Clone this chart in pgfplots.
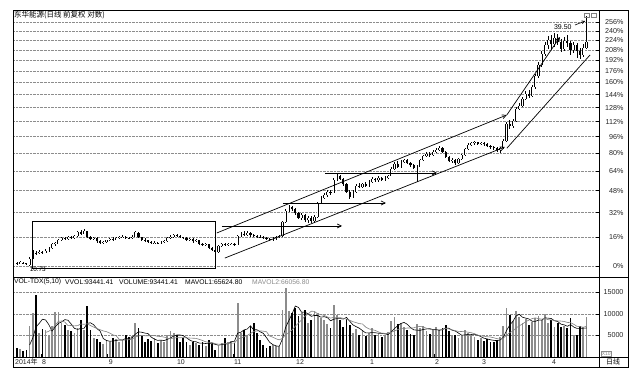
\documentclass[border=0pt]{standalone}
\usepackage{pgfplots}
\pgfplotsset{compat=1.18}
\usepackage{pgfplotstable}
\usepackage{fontspec}
\setmainfont{Liberation Sans}
\newfontfamily\cjk{Noto Sans CJK SC}
\usetikzlibrary{arrows.meta}
\newcommand\tf{\fontsize{7.2}{8}\selectfont}
\newcommand\vf{\fontsize{6.8}{8}\selectfont}

\pgfplotstableread{
i o h l c v m5 m10
0 10.90 10.95 10.80 10.85 2.0 nan nan
1 10.85 11.00 10.82 10.95 1.8 nan nan
2 10.92 10.98 10.84 10.88 1.5 nan nan
3 10.88 10.92 10.78 10.82 1.7 nan nan
4 10.80 11.25 10.73 11.15 7.1 2.82 nan
5 11.20 11.65 11.15 11.55 10.2 4.46 nan
6 11.50 11.62 11.38 11.45 14.5 7.00 nan
7 11.45 11.65 11.40 11.55 5.6 7.82 nan
8 11.55 11.62 11.42 11.50 6.5 8.78 nan
9 11.50 11.70 11.45 11.60 6.2 8.60 5.71
10 11.60 11.82 11.55 11.75 4.8 7.52 5.99
11 11.75 12.10 11.70 12.00 7.1 6.04 6.52
12 12.00 12.18 11.92 12.10 10.5 7.02 7.42
13 12.05 12.35 12.00 12.25 10.5 7.82 8.30
14 12.25 12.48 12.20 12.40 7.9 8.16 8.38
15 12.40 12.50 12.28 12.35 7.5 8.70 8.11
16 12.35 12.52 12.30 12.45 6.3 8.54 7.29
17 12.45 12.55 12.35 12.40 6.0 7.64 7.33
18 12.40 12.62 12.36 12.55 5.6 6.66 7.24
19 12.55 12.90 12.50 12.80 6.7 6.42 7.29
20 12.80 12.95 12.65 12.70 8.7 6.66 7.68
21 12.70 13.00 12.65 12.90 6.3 6.66 7.60
22 12.85 12.90 12.40 12.50 11.8 7.82 7.73
23 12.50 12.55 12.25 12.35 6.3 7.96 7.31
24 12.35 12.48 12.28 12.40 4.4 7.50 6.96
25 12.40 12.45 12.12 12.20 4.2 6.60 6.63
26 12.20 12.25 12.05 12.10 3.6 6.06 6.36
27 12.10 12.22 12.05 12.15 3.0 4.30 6.06
28 12.15 12.30 12.10 12.25 4.0 3.84 5.90
29 12.25 12.42 12.20 12.35 3.5 3.66 5.58
30 12.35 12.45 12.25 12.30 4.4 3.70 5.15
31 12.30 12.50 12.26 12.42 4.3 3.84 4.95
32 12.42 12.55 12.36 12.45 3.6 3.96 4.13
33 12.45 12.58 12.40 12.50 4.0 3.96 3.90
34 12.50 12.56 12.36 12.42 5.2 4.30 3.98
35 12.42 12.50 12.32 12.40 4.6 4.34 4.02
36 12.40 12.58 12.35 12.50 4.8 4.44 4.14
37 12.50 12.90 12.48 12.80 7.9 5.30 4.63
38 12.75 12.80 12.40 12.45 6.7 5.84 4.90
39 12.45 12.50 12.22 12.30 4.8 5.76 5.03
40 12.30 12.38 12.18 12.25 3.6 5.56 4.95
41 12.25 12.30 12.08 12.15 4.2 5.44 4.94
42 12.15 12.22 12.05 12.10 3.8 4.62 4.96
43 12.10 12.20 12.02 12.12 4.4 4.16 5.00
44 12.12 12.18 12.00 12.08 3.3 3.86 4.81
45 12.08 12.22 12.02 12.15 4.0 3.94 4.75
46 12.15 12.28 12.10 12.20 3.6 3.82 4.63
47 12.20 12.48 12.16 12.40 5.2 4.10 4.36
48 12.40 12.60 12.35 12.50 6.0 4.42 4.29
49 12.50 12.68 12.44 12.60 5.6 4.88 4.37
50 12.60 12.70 12.48 12.55 5.2 5.12 4.53
51 12.55 12.62 12.38 12.45 3.6 5.12 4.47
52 12.45 12.50 12.32 12.40 4.4 4.96 4.53
53 12.40 12.45 12.25 12.30 3.6 4.48 4.45
54 12.30 12.42 12.22 12.35 2.9 3.94 4.41
55 12.35 12.40 12.12 12.20 3.6 3.62 4.37
56 12.20 12.32 12.14 12.25 3.2 3.54 4.33
57 12.25 12.28 11.98 12.05 2.9 3.24 4.10
58 12.05 12.10 11.88 11.95 3.5 3.22 3.85
59 11.95 12.08 11.88 12.00 2.5 3.14 3.54
60 12.00 12.02 11.72 11.80 4.0 3.22 3.42
61 11.80 11.85 11.58 11.65 3.0 3.18 3.36
62 11.65 11.70 11.45 11.55 1.7 2.94 3.09
63 11.55 11.98 11.50 11.90 2.5 2.74 2.98
64 11.90 12.08 11.85 12.00 3.3 2.90 3.02
65 12.00 12.06 11.90 11.95 4.4 2.98 3.10
66 11.95 12.08 11.90 12.02 3.6 3.10 3.14
67 12.02 12.12 11.96 12.05 3.8 3.52 3.23
68 12.05 12.10 11.92 11.98 3.3 3.68 3.21
69 11.98 12.62 11.95 12.55 12.6 5.54 4.22
70 12.55 12.80 12.50 12.70 5.5 5.76 4.37
71 12.70 12.85 12.55 12.60 6.3 6.30 4.70
72 12.60 12.88 12.55 12.75 4.8 6.50 5.01
73 12.75 12.80 12.50 12.60 7.1 7.26 5.47
74 12.60 12.68 12.48 12.55 7.9 6.32 5.93
75 12.55 12.62 12.42 12.50 5.6 6.34 6.05
76 12.50 12.58 12.38 12.45 4.0 5.88 6.09
77 12.45 12.52 12.34 12.40 2.9 5.50 6.00
78 12.40 12.45 12.28 12.35 2.1 4.50 5.88
79 12.35 12.40 12.22 12.30 2.5 3.42 4.87
80 12.30 12.45 12.24 12.38 2.9 2.88 4.61
81 12.38 12.52 12.30 12.45 2.5 2.58 4.23
82 12.45 12.62 12.40 12.55 2.3 2.46 3.98
83 12.55 13.55 12.50 13.50 11.0 4.24 4.37
84 13.50 14.45 13.45 14.30 16.0 6.94 5.18
85 14.30 14.70 14.20 14.55 10.6 8.48 5.68
86 14.55 14.65 14.25 14.40 10.2 10.02 6.30
87 14.40 14.50 14.00 14.10 11.4 11.84 7.15
88 14.10 14.20 13.70 13.80 9.5 11.54 7.89
89 13.80 14.10 13.65 14.00 10.2 10.38 8.66
90 14.00 14.05 13.50 13.60 11.0 10.46 9.47
91 13.60 13.95 13.45 13.80 7.9 10.00 10.01
92 13.80 13.90 13.40 13.55 8.7 9.46 10.65
93 13.55 14.00 13.45 13.85 10.5 9.66 10.60
94 13.85 15.00 13.80 14.90 10.2 9.66 10.02
95 14.90 15.45 14.80 15.30 9.0 9.26 9.86
96 15.30 15.65 15.20 15.50 8.5 9.38 9.69
97 15.50 15.90 15.40 15.75 7.6 9.16 9.31
98 15.75 15.95 15.55 15.70 6.8 8.42 9.04
99 15.70 17.00 15.65 16.80 12.0 8.78 9.22
100 16.80 17.30 16.70 17.10 9.8 8.94 9.10
101 17.10 17.25 16.75 16.90 8.5 8.94 9.16
102 16.90 17.00 16.30 16.40 7.0 8.82 8.99
103 16.40 16.50 15.70 15.80 8.8 9.22 8.82
104 15.80 15.95 15.20 15.40 7.5 8.32 8.55
105 15.40 15.90 15.30 15.80 5.6 7.48 8.21
106 15.80 16.40 15.70 16.30 6.4 7.06 8.00
107 16.30 16.50 16.10 16.20 5.2 6.70 7.76
108 16.20 16.55 16.10 16.45 6.0 6.14 7.68
109 16.45 16.60 16.20 16.30 4.8 5.60 6.96
110 16.30 16.75 16.20 16.60 5.6 5.60 6.54
111 16.60 17.05 16.50 16.90 6.8 5.68 6.37
112 16.90 17.00 16.60 16.75 5.0 5.64 6.17
113 16.75 17.10 16.65 16.95 5.4 5.52 5.83
114 16.95 17.05 16.70 16.80 4.6 5.48 5.54
115 16.80 17.10 16.70 17.00 5.2 5.40 5.50
116 17.00 17.25 16.90 17.15 5.8 5.20 5.44
117 17.15 17.95 17.10 17.80 8.4 5.88 5.76
118 17.80 18.40 17.70 18.20 9.2 6.64 6.08
119 18.20 18.50 17.90 18.00 7.6 7.24 6.36
120 18.00 18.60 17.90 18.40 8.0 7.80 6.60
121 18.40 18.75 18.30 18.60 7.0 8.04 6.62
122 18.60 18.70 18.20 18.30 6.2 7.60 6.74
123 18.30 18.40 17.95 18.10 5.4 6.84 6.74
124 18.10 18.20 17.80 17.90 5.0 6.32 6.78
125 17.90 18.10 16.65 18.00 7.6 6.24 7.02
126 18.00 18.75 17.95 18.60 6.8 6.20 7.12
127 18.60 19.10 18.50 19.00 7.2 6.40 7.00
128 19.00 19.40 18.90 19.20 6.0 6.52 6.68
129 19.20 19.45 18.95 19.10 5.4 6.60 6.46
130 19.10 19.60 19.00 19.40 6.4 6.36 6.30
131 19.40 19.80 19.30 19.60 7.0 6.40 6.30
132 19.60 20.00 19.50 19.80 6.2 6.20 6.30
133 19.80 19.90 19.30 19.40 6.8 6.36 6.44
134 19.40 19.50 18.80 18.90 7.4 6.76 6.68
135 18.90 19.00 18.40 18.50 6.0 6.68 6.52
136 18.50 18.80 18.30 18.60 4.8 6.24 6.32
137 18.60 18.70 18.15 18.30 5.2 6.04 6.12
138 18.30 18.80 18.20 18.70 4.4 5.56 5.96
139 18.70 19.20 18.60 19.10 5.0 5.08 5.92
140 19.10 19.85 19.00 19.70 6.2 5.12 5.90
141 19.70 20.30 19.60 20.10 5.6 5.28 5.76
142 20.10 20.50 20.00 20.30 5.0 5.24 5.64
143 20.30 20.55 20.15 20.40 4.6 5.28 5.42
144 20.40 20.50 20.10 20.20 4.0 5.08 5.08
145 20.20 20.50 20.10 20.35 4.4 4.72 4.92
146 20.35 20.45 20.05 20.20 3.8 4.36 4.82
147 20.20 20.30 19.90 20.00 4.2 4.20 4.72
148 20.00 20.10 19.75 19.90 3.6 4.00 4.64
149 19.90 20.00 19.65 19.80 3.4 3.88 4.48
150 19.80 19.90 19.45 19.60 4.0 3.80 4.26
151 19.60 19.90 19.35 19.80 4.6 3.96 4.16
152 19.80 20.80 19.75 20.60 7.2 4.56 4.38
153 20.60 22.70 20.50 22.50 11.5 6.14 5.07
154 22.50 22.90 21.90 22.20 9.8 7.42 5.65
155 22.20 23.00 22.00 22.80 8.4 8.30 6.05
156 22.80 24.60 22.70 24.30 10.8 9.54 6.75
157 24.30 25.00 24.10 24.70 9.2 9.94 7.25
158 24.70 25.90 24.50 25.60 8.0 9.24 7.69
159 25.60 26.70 25.40 26.30 8.8 9.04 8.23
160 26.30 26.80 25.70 26.00 7.4 8.84 8.57
161 26.00 27.50 25.90 27.20 8.2 8.32 8.93
162 27.20 29.20 27.00 28.80 9.0 8.28 9.11
163 28.80 31.00 28.60 30.50 9.6 8.60 8.92
164 30.50 32.80 30.20 32.40 8.6 8.56 8.80
165 32.40 34.50 32.00 33.80 10.0 9.08 8.96
166 33.80 35.50 33.20 34.80 8.0 9.04 8.68
167 34.80 35.60 33.00 34.00 8.5 8.94 8.61
168 34.00 36.00 33.50 35.20 7.0 8.42 8.51
169 35.20 35.80 33.80 34.50 7.8 8.26 8.41
170 34.50 35.00 32.60 33.20 6.9 7.64 8.36
171 33.20 35.40 32.80 34.60 7.2 7.48 8.26
172 34.60 35.60 33.60 34.20 6.8 7.14 8.04
173 34.20 34.60 32.20 33.00 9.0 7.54 7.98
174 33.00 34.50 32.50 33.80 5.0 6.98 7.62
175 33.80 34.20 31.60 32.80 5.2 6.64 7.14
176 32.80 33.40 31.50 32.20 7.3 6.66 7.07
177 32.20 34.00 31.90 33.40 7.0 6.70 6.92
178 33.40 39.50 33.20 34.50 9.2 6.74 7.14
}\data

\begin{document}
\begin{tikzpicture}
\fill[white] (0,0) rectangle (640bp,377bp);
\useasboundingbox (0,0) rectangle (640bp,377bp);

% ---------------- price panel ----------------
\begin{axis}[
  at={(13bp,100bp)}, anchor=south west, scale only axis,
  width=586bp, height=266bp,
  xmin=-1.2, xmax=181.9,
  ymode=log, ymin=10.13, ymax=40.44,
  axis line style={draw=none},
  xtick=\empty, yminorticks=false,
  ytick={10.73,12.4468,14.1636,15.8804,17.5972,19.314,21.0308,22.7476,24.4644,26.1812,27.898,29.6148,31.3316,33.0484,34.7652,36.482,38.1988},
  yticklabels={0\%,16\%,32\%,48\%,64\%,80\%,96\%,112\%,128\%,144\%,160\%,176\%,192\%,208\%,224\%,240\%,256\%},
  yticklabel pos=right, ytick pos=right, ytick align=inside,
  major tick length=3bp,
  tick style={black, line width=0.5bp},
  yticklabel style={font=\tf, anchor=east, xshift=28bp, text=black!85},
  /pgf/number format/assume math mode=true,
  ymajorgrids, major grid style={densely dotted, black!45, line width=0.4bp},
]
% wicks
\addplot[draw=none, no markers, forget plot,
  error bars/.cd, y dir=both, y explicit, error mark=none,
  error bar style={draw=black, line width=0.5bp}]
  table[x=i, y=c, y error plus expr={\thisrow{h}-\thisrow{c}}, y error minus expr={\thisrow{c}-\thisrow{l}}] {\data};
% bodies
\addplot[draw=none, no markers, forget plot,
  error bars/.cd, y dir=plus, y explicit, error mark=none,
  error bar style={draw=black, line width=2.1bp}]
  table[x=i, y expr={min(\thisrow{o},\thisrow{c})}, y error expr={abs(\thisrow{c}-\thisrow{o})}] {\data};
% hollow up candles
\addplot[draw=none, no markers, forget plot,
  error bars/.cd, y dir=plus, y explicit, error mark=none,
  error bar style={draw=white, line width=0.8bp}]
  table[x=i, y=o, y error expr={max(\thisrow{c}-\thisrow{o},0)}] {\data};

% annotations
\draw[line width=0.7bp] (axis cs:4.69,10.62) rectangle (axis cs:61.9,13.56);
\draw[line width=0.7bp, -{Straight Barb[length=4bp,width=4bp]}] (axis cs:62.5,12.74) -- (axis cs:153.1,23.54);
\draw[line width=0.7bp, -{Straight Barb[length=4bp,width=4bp]}] (axis cs:65,11.18) -- (axis cs:152.5,19.93);
\draw[line width=0.7bp, -{Straight Barb[length=4bp,width=4bp]}] (axis cs:153.1,23.54) -- (axis cs:169.7,35.32);
\draw[line width=0.7bp] (axis cs:153.1,19.8) -- (axis cs:179.1,32.17);
\draw[line width=0.7bp, -{Straight Barb[length=4bp,width=4bp]}] (axis cs:64.1,13.21) -- (axis cs:101.6,13.21);
\draw[line width=0.7bp, -{Straight Barb[length=4bp,width=4bp]}] (axis cs:83.1,14.89) -- (axis cs:115.3,14.89);
\draw[line width=0.7bp, -{Straight Barb[length=4bp,width=4bp]}] (axis cs:96.3,17.41) -- (axis cs:131.25,17.41);
\node[font=\fontsize{6.4}{7}\selectfont, inner sep=0, anchor=west] at (axis cs:4.0,10.55) {10.73};
\node[font=\fontsize{7}{8}\selectfont, inner sep=0] at (axis cs:170.6,37.21) {39.50};
\draw[line width=0.6bp, -{Straight Barb[length=3bp,width=3bp]}] (axis cs:174.4,37.6) -- (axis cs:177.6,38.4);
\end{axis}

% ---------------- volume panel ----------------
\begin{axis}[
  at={(13bp,20bp)}, anchor=south west, scale only axis,
  width=586bp, height=79bp,
  xmin=-1.2, xmax=181.9, ymin=0, ymax=18.37,
  axis line style={draw=none},
  ytick={5,10,15}, yticklabels={5000,10000,15000},
  yticklabel pos=right, ytick pos=right, ytick align=inside,
  xtick={7.5,28.4,49.7,67.5,86.9,110,130.3,145,166.9},
  xticklabels={8,9,10,11,12,1,2,3,4},
  xtick pos=bottom, xtick align=inside,
  major tick length=3bp,
  tick style={black, line width=0.5bp},
  yticklabel style={font=\tf, anchor=east, xshift=28bp, text=black!85},
  xticklabel style={font=\fontsize{7}{8}\selectfont, anchor=west, inner sep=0pt, yshift=-5bp, xshift=1bp, text=black!85},
  /pgf/number format/assume math mode=true,
  ymajorgrids, major grid style={densely dotted, black!45, line width=0.4bp},
]
\addplot[ycomb, draw=black!45, line width=1.7bp, mark=none] table[x=i, y=v] {\data};
\addplot[ycomb, draw=black, line width=1.7bp, mark=none] table[x=i, y expr={\thisrow{v}*(\thisrow{o}>\thisrow{c})}] {\data};
\addplot[black, line width=0.6bp, mark=none] table[x=i, y=m5] {\data};
\addplot[black!50, line width=0.6bp, mark=none] table[x=i, y=m10] {\data};
\end{axis}

% ---------------- frame and texts ----------------
\draw[line width=0.8bp] (13bp,10bp) rectangle (628bp,367bp);
\draw[line width=0.7bp] (13bp,100bp) -- (628bp,100bp);
\draw[line width=0.7bp] (13bp,20bp) -- (628bp,20bp);
\draw[line width=0.7bp] (599bp,10bp) -- (599bp,367bp);

\node[anchor=west, inner sep=0, font=\cjk\fontsize{7.5}{8}\selectfont] at (14bp,362bp) {东华能源(日线 前复权 对数)};
\draw[black!50, line width=0.4bp] (584bp,360bp) rectangle (589bp,364bp);
\draw[black!50, line width=0.4bp] (591bp,360bp) rectangle (596bp,364bp);

\node[anchor=west, inner sep=0, font=\vf] at (14bp,95bp) {VOL-TDX(5,10)};
\node[anchor=west, inner sep=0, font=\vf] at (65bp,95bp) {VVOL:93441.41};
\node[anchor=west, inner sep=0, font=\vf] at (119bp,95bp) {VOLUME:93441.41};
\node[anchor=west, inner sep=0, font=\vf] at (185bp,95bp) {MAVOL1:65624.80};
\node[anchor=west, inner sep=0, font=\vf, text=black!45] at (252bp,95bp) {MAVOL2:66056.80};

\node[anchor=west, inner sep=0, font=\fontsize{7}{8}\selectfont, text=black!85] at (15bp,15bp) {2014{\cjk 年}};
\node[inner sep=0, font=\cjk\fontsize{7}{8}\selectfont] at (613bp,15bp) {日线};
\node[draw=black!45, line width=0.4bp, inner sep=0.6bp, font=\fontsize{5}{5}\selectfont, text=black!50, anchor=south west] at (601bp,21bp) {X10};
\end{tikzpicture}
\end{document}
